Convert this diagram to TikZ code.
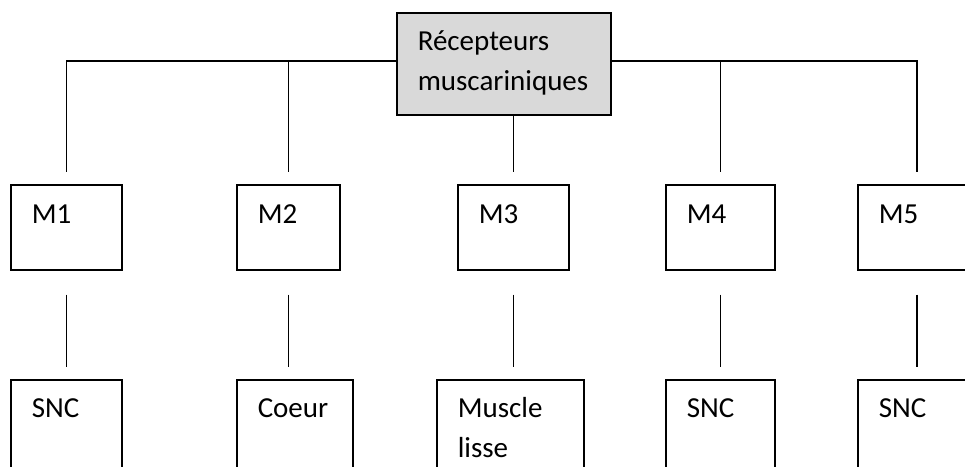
\documentclass[tikz,border=0pt]{standalone}
\usepackage{fontspec}
\setmainfont{Carlito}
\definecolor{boxgray}{HTML}{D9D9D9}

\begin{document}
\begin{tikzpicture}[x=1pt, y=-1pt, line width=1.5pt,
  font=\fontsize{29}{40}\selectfont,
  box/.style={draw, anchor=north west, align=left, inner xsep=21pt, inner ysep=0pt,
    text width=#1, text height=39pt, text depth=46pt},
  leaf/.style={box=#1, text height=38pt, text depth=100pt},
  root/.style={box=#1, fill=boxgray, text height=38pt, text depth=64pt}]
\useasboundingbox (0,0) rectangle (965,466);
\clip (0,0) rectangle (965,466);

\node[root=172pt] (rec) at (396,12) {Récepteurs\\muscariniques};

\node[box=69pt] (m1) at (10,184) {M1};
\node[box=61pt] (m2) at (236,184) {M2};
\node[box=69pt] (m3) at (457,184) {M3};
\node[box=67pt] (m4) at (665,184) {M4};
\node[box=76pt] (m5) at (857,184) {M5};

\node[leaf=69pt] (s1) at (10,379) {SNC};
\node[leaf=74pt] (coeur) at (236,379) {Coeur};
\node[leaf=105pt] (muscle) at (436,379) {Muscle\\lisse};
\node[leaf=67pt] (s4) at (665,379) {SNC};
\node[leaf=76pt] (s5) at (857,379) {SNC};

\draw[shorten >=12pt] ([yshift=3pt]rec.west) -| (m1.north);
\draw[shorten >=12pt] ([yshift=3pt]rec.west -| m2.north) -- (m2.north);
\draw[shorten >=12pt] (rec.south -| m3.north) -- (m3.north);
\draw[shorten >=12pt] ([yshift=3pt]rec.east -| m4.north) -- (m4.north);
\draw[shorten >=12pt] ([yshift=3pt]rec.east) -| (m5.north);

\foreach \m/\s in {m1/s1, m2/coeur, m3/muscle, m4/s4, m5/s5}
  \draw[shorten <=24pt, shorten >=12pt] (\m.south) -- (\m.south |- \s.north);
\end{tikzpicture}
\end{document}
